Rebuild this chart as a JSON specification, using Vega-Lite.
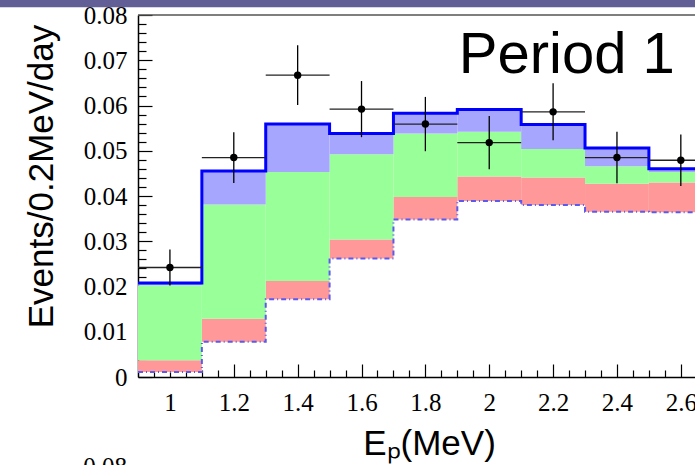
{
  "$schema": "https://vega.github.io/schema/vega-lite/v6.json",
  "width": 557,
  "height": 362,
  "autosize": "none",
  "padding": {"left": 138, "top": 15, "right": 0, "bottom": 88},
  "background": "white",
  "config": {"view": {"stroke": null}, "font": "Liberation Sans"},
  "resolve": {"axis": {"x": "independent", "y": "independent"}},
  "datasets": {
    "bins": [
      {"bin": 1, "x0": 0.9, "x1": 1.1, "total": 0.0208, "green": 0.0203, "pink": 0.0037, "dd": 0.0011},
      {"bin": 2, "x0": 1.1, "x1": 1.3, "total": 0.0455, "green": 0.0381, "pink": 0.0129, "dd": 0.0078},
      {"bin": 3, "x0": 1.3, "x1": 1.5, "total": 0.0559, "green": 0.0453, "pink": 0.0212, "dd": 0.0172},
      {"bin": 4, "x0": 1.5, "x1": 1.7, "total": 0.0538, "green": 0.0492, "pink": 0.0304, "dd": 0.0262},
      {"bin": 5, "x0": 1.7, "x1": 1.9, "total": 0.0583, "green": 0.0538, "pink": 0.0398, "dd": 0.0348},
      {"bin": 6, "x0": 1.9, "x1": 2.1, "total": 0.0591, "green": 0.0542, "pink": 0.0443, "dd": 0.0389},
      {"bin": 7, "x0": 2.1, "x1": 2.3, "total": 0.0558, "green": 0.0504, "pink": 0.0441, "dd": 0.0380},
      {"bin": 8, "x0": 2.3, "x1": 2.5, "total": 0.0506, "green": 0.0466, "pink": 0.0427, "dd": 0.0365},
      {"bin": 9, "x0": 2.5, "x1": 2.7, "total": 0.0460, "green": 0.0453, "pink": 0.0430, "dd": 0.0364}
    ],
    "pts": [
      {"e": 1.0, "xlo": 0.9, "xhi": 1.1, "v": 0.0242, "lo": 0.0202, "hi": 0.0282},
      {"e": 1.2, "xlo": 1.1, "xhi": 1.3, "v": 0.0485, "lo": 0.0429, "hi": 0.0541},
      {"e": 1.4, "xlo": 1.3, "xhi": 1.5, "v": 0.0667, "lo": 0.0601, "hi": 0.0733},
      {"e": 1.6, "xlo": 1.5, "xhi": 1.7, "v": 0.0592, "lo": 0.0530, "hi": 0.0654},
      {"e": 1.8, "xlo": 1.7, "xhi": 1.9, "v": 0.0559, "lo": 0.0499, "hi": 0.0619},
      {"e": 2.0, "xlo": 1.9, "xhi": 2.1, "v": 0.0518, "lo": 0.0459, "hi": 0.0577},
      {"e": 2.2, "xlo": 2.1, "xhi": 2.3, "v": 0.0586, "lo": 0.0523, "hi": 0.0649},
      {"e": 2.4, "xlo": 2.3, "xhi": 2.5, "v": 0.0485, "lo": 0.0428, "hi": 0.0542},
      {"e": 2.6, "xlo": 2.5, "xhi": 2.7, "v": 0.0479, "lo": 0.0422, "hi": 0.0536}
    ],
    "one": [{}]
  },
  "layer": [
    {
      "data": {"name": "bins"},
      "mark": {"type": "rect", "fill": "#FF9999", "clip": true},
      "encoding": {
        "x": {
          "field": "x0", "type": "quantitative",
          "scale": {"domain": [0.9, 2.6444], "nice": false, "zero": false},
          "axis": {
            "orient": "bottom",
            "values": [1, 1.2, 1.4, 1.6, 1.8, 2, 2.2, 2.4, 2.6],
            "grid": false,
            "domainColor": "black", "domainWidth": 1.5,
            "tickColor": "black", "tickWidth": 1.2, "tickSize": -13,
            "format": "~g",
            "labelFont": "Liberation Serif", "labelFontSize": 25, "labelColor": "black",
            "labelBaseline": "alphabetic", "labelPadding": 46,
            "labelOverlap": false, "labelFlush": false, "labelBound": false,
            "title": "Eₚ(MeV)", "titleFont": "Liberation Sans", "titleFontSize": 35,
            "titleFontWeight": "normal", "titleColor": "black",
            "titleX": 291, "titleY": 77, "titleAlign": "center", "titleBaseline": "alphabetic"
          }
        },
        "x2": {"field": "x1"},
        "y": {
          "field": "pink", "type": "quantitative",
          "scale": {"domain": [0, 0.08], "nice": false, "zero": false},
          "axis": {
            "orient": "left",
            "values": [0, 0.01, 0.02, 0.03, 0.04, 0.05, 0.06, 0.07, 0.08],
            "grid": false,
            "domainColor": "black", "domainWidth": 1.5,
            "tickColor": "black", "tickWidth": 1.2, "tickSize": -14,
            "format": ".2~f",
            "labelFont": "Liberation Serif", "labelFontSize": 25, "labelColor": "black",
            "labelPadding": 25,
            "labelOverlap": false, "labelFlush": false, "labelBound": false,
            "title": "Events/0.2MeV/day", "titleFont": "Liberation Sans", "titleFontSize": 35,
            "titleFontWeight": "normal", "titleColor": "black", "titleAngle": 270,
            "titleX": -86, "titleY": 161, "titleAlign": "center", "titleBaseline": "alphabetic"
          }
        },
        "y2": {"field": "dd"}
      }
    },
    {
      "data": {"name": "bins"},
      "mark": {"type": "rect", "fill": "#99FF99", "clip": true},
      "encoding": {
        "x": {
          "field": "x0", "type": "quantitative",
          "axis": {
            "orient": "bottom",
            "values": [0.95,1.05,1.1,1.15,1.25,1.3,1.35,1.45,1.5,1.55,1.65,1.7,1.75,1.85,1.9,1.95,2.05,2.1,2.15,2.25,2.3,2.35,2.45,2.5,2.55],
            "grid": false, "domain": false, "labels": false, "title": null,
            "tickColor": "black", "tickWidth": 1.2, "tickSize": -7
          }
        },
        "x2": {"field": "x1"},
        "y": {
          "field": "green", "type": "quantitative",
          "axis": {
            "orient": "left",
            "values": [0.002,0.004,0.006,0.008,0.012,0.014,0.016,0.018,0.022,0.024,0.026,0.028,0.032,0.034,0.036,0.038,0.042,0.044,0.046,0.048,0.052,0.054,0.056,0.058,0.062,0.064,0.066,0.068,0.072,0.074,0.076,0.078],
            "grid": false, "domain": false, "labels": false, "title": null,
            "tickColor": "black", "tickWidth": 1.2, "tickSize": -8
          }
        },
        "y2": {"field": "pink"}
      }
    },
    {
      "data": {"name": "bins"},
      "mark": {"type": "rect", "fill": "#A6A6FF", "clip": true},
      "encoding": {
        "x": {"field": "x0", "type": "quantitative", "axis": null},
        "x2": {"field": "x1"},
        "y": {"field": "total", "type": "quantitative", "axis": null},
        "y2": {"field": "green"}
      }
    },
    {
      "data": {"name": "bins"},
      "transform": [{"fold": ["x0", "x1"], "as": ["edge", "xe"]}],
      "mark": {"type": "line", "stroke": "#5A5AF0", "strokeWidth": 2, "strokeDash": [5, 3, 1, 3], "clip": true},
      "encoding": {
        "x": {"field": "xe", "type": "quantitative", "axis": null},
        "y": {"field": "dd", "type": "quantitative", "axis": null},
        "order": [{"field": "bin", "type": "quantitative"}, {"field": "edge", "type": "nominal"}]
      }
    },
    {
      "data": {"name": "bins"},
      "transform": [{"fold": ["x0", "x1"], "as": ["edge", "xe"]}],
      "mark": {"type": "line", "stroke": "#0000FF", "strokeWidth": 3, "strokeJoin": "miter", "clip": true},
      "encoding": {
        "x": {"field": "xe", "type": "quantitative", "axis": null},
        "y": {"field": "total", "type": "quantitative", "axis": null},
        "order": [{"field": "bin", "type": "quantitative"}, {"field": "edge", "type": "nominal"}]
      }
    },
    {
      "data": {"name": "pts"},
      "mark": {"type": "rule", "stroke": "black", "strokeWidth": 1.3, "clip": true},
      "encoding": {
        "x": {"field": "e", "type": "quantitative", "axis": null},
        "y": {"field": "lo", "type": "quantitative", "axis": null},
        "y2": {"field": "hi"}
      }
    },
    {
      "data": {"name": "pts"},
      "mark": {"type": "rule", "stroke": "#222222", "strokeWidth": 1.3, "clip": true},
      "encoding": {
        "x": {"field": "xlo", "type": "quantitative", "axis": null},
        "x2": {"field": "xhi"},
        "y": {"field": "v", "type": "quantitative", "axis": null}
      }
    },
    {
      "data": {"name": "pts"},
      "mark": {"type": "circle", "fill": "black", "opacity": 1, "size": 55, "clip": true},
      "encoding": {
        "x": {"field": "e", "type": "quantitative", "axis": null},
        "y": {"field": "v", "type": "quantitative", "axis": null}
      }
    },
    {
      "data": {"name": "one"},
      "mark": {"type": "rule", "stroke": "#555555", "strokeWidth": 1.5},
      "encoding": {"y": {"datum": 0.08, "type": "quantitative", "axis": null}}
    },
    {
      "data": {"name": "one"},
      "mark": {"type": "rect", "fill": "#625E96", "clip": false},
      "encoding": {
        "x": {"datum": 0.3, "type": "quantitative", "axis": null},
        "x2": {"datum": 2.9},
        "y": {"datum": 0.0817, "type": "quantitative", "axis": null},
        "y2": {"datum": 0.0845}
      }
    },
    {
      "data": {"name": "one"},
      "mark": {"type": "text", "text": "Period 1", "font": "Liberation Sans", "fontSize": 58, "align": "left", "baseline": "alphabetic", "color": "black", "clip": false},
      "encoding": {
        "x": {"datum": 1.9047, "type": "quantitative", "axis": null},
        "y": {"datum": 0.06725, "type": "quantitative", "axis": null}
      }
    },
    {
      "data": {"name": "one"},
      "mark": {"type": "text", "text": "0.08", "font": "Liberation Serif", "fontSize": 25, "align": "right", "baseline": "alphabetic", "color": "black", "clip": false},
      "encoding": {
        "x": {"datum": 0.8655, "type": "quantitative", "axis": null},
        "y": {"datum": -0.0217, "type": "quantitative", "axis": null}
      }
    }
  ]
}
